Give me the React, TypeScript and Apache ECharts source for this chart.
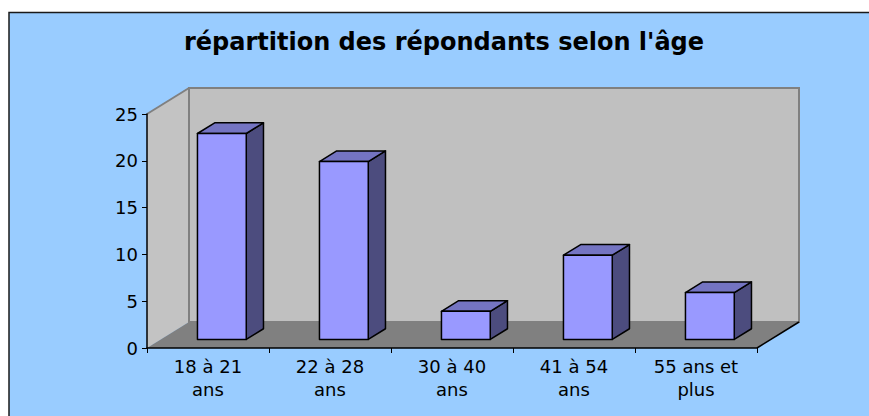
import React, { useEffect, useRef } from "react";
import * as echarts from "echarts";

const TITLE = "répartition des répondants selon l'âge";
const CATEGORIES = ["18 à 21\nans", "22 à 28\nans", "30 à 40\nans", "41 à 54\nans", "55 ans et\nplus"];
const VALUES = [22, 19, 3, 9, 5];
const Y_MIN = 0;
const Y_MAX = 25;
const Y_STEP = 5;

// 3D look (pixels / fractions)
const DX = 42;
const DY = -26;
const F1 = 0.33;
const F2 = 0.74;
const BAR_RATIO = 0.4;

const FONT = "'DejaVu Sans', Verdana, sans-serif";

export default function App() {
  const ref = useRef<HTMLDivElement>(null);
  useEffect(() => {
    if (!ref.current) return;
    const chart = echarts.init(ref.current, undefined, { renderer: "svg" });
    const option: any = {
      animation: false,
      backgroundColor: "#ffffff",
      title: {
        text: TITLE,
        left: 444,
        top: 30,
        padding: 0,
        textAlign: "center",
        textStyle: { fontFamily: FONT, fontSize: 24, fontWeight: "bold", color: "#000" },
      },
      graphic: [
        {
          type: "rect",
          z: -10,
          silent: true,
          shape: { x: 9, y: 12.5, width: 900, height: 450 },
          style: { fill: "#99CCFF", stroke: "#1a1a1a", lineWidth: 1.5 },
        },
      ],
      grid: { left: 147, right: 112, top: 114, bottom: 68, containLabel: false },
      xAxis: {
        type: "category",
        data: CATEGORIES,
        z: 10,
        axisLine: { show: true, lineStyle: { color: "#000", width: 1.5 } },
        axisTick: { show: true, length: 5, lineStyle: { color: "#000", width: 1 } },
        axisLabel: {
          fontFamily: FONT,
          fontSize: 18,
          lineHeight: 23,
          color: "#000",
          margin: 7,
          interval: 0,
        },
        splitLine: { show: false },
      },
      yAxis: {
        type: "value",
        min: Y_MIN,
        max: Y_MAX,
        interval: Y_STEP,
        z: 10,
        axisLine: { show: true, lineStyle: { color: "#000", width: 1.5 } },
        axisTick: { show: true, length: 5, lineStyle: { color: "#000", width: 1 } },
        axisLabel: { fontFamily: FONT, fontSize: 18, color: "#000", margin: 9 },
        splitLine: { show: false },
      },
      series: [
        {
          type: "custom",
          z: 1,
          silent: true,
          data: [[0, 0]],
          renderItem: (params: any) => {
            const cs = params.coordSys;
            const x = cs.x, y = cs.y, w = cs.width, h = cs.height;
            return {
              type: "group",
              children: [
                {
                  type: "polygon",
                  shape: { points: [[x, y], [x + DX, y + DY], [x + DX, y + h + DY], [x, y + h]] },
                  style: { fill: "#C3C3C3", stroke: "none" },
                },
                {
                  type: "rect",
                  shape: { x: x + DX, y: y + DY, width: w, height: h },
                  style: { fill: "#C0C0C0", stroke: "#808080", lineWidth: 2 },
                },
                {
                  type: "line",
                  shape: { x1: x, y1: y, x2: x + DX, y2: y + DY },
                  style: { stroke: "#808080", lineWidth: 2 },
                },
                {
                  type: "polygon",
                  shape: { points: [[x, y + h], [x + w, y + h], [x + w + DX, y + h + DY], [x + DX, y + h + DY]] },
                  style: { fill: "#808080", stroke: "none" },
                },
                {
                  type: "line",
                  shape: { x1: x + w, y1: y + h, x2: x + w + DX, y2: y + h + DY },
                  style: { stroke: "#000", lineWidth: 1.5 },
                },
              ],
            };
          },
        },
        {
          type: "custom",
          z: 3,
          data: VALUES.map((v, i) => [i, v]),
          renderItem: (params: any, api: any) => {
            const i = api.value(0);
            const v = api.value(1);
            const base = api.coord([i, 0]);
            const top = api.coord([i, v]);
            const bw = api.size([1, 0])[0] * BAR_RATIO;
            const x0 = base[0] - bw / 2 + F1 * DX;
            const x1 = x0 + bw;
            const yb = base[1] + F1 * DY;
            const yt = top[1] + F1 * DY;
            const ox = (F2 - F1) * DX;
            const oy = (F2 - F1) * DY;
            const stroke = { stroke: "#000", lineWidth: 1.5, lineJoin: "round" };
            return {
              type: "group",
              children: [
                {
                  type: "polygon",
                  shape: { points: [[x1, yt], [x1 + ox, yt + oy], [x1 + ox, yb + oy], [x1, yb]] },
                  style: { fill: "#4C4C7E", ...stroke },
                },
                {
                  type: "polygon",
                  shape: { points: [[x0, yt], [x1, yt], [x1 + ox, yt + oy], [x0 + ox, yt + oy]] },
                  style: { fill: "#7474C2", ...stroke },
                },
                {
                  type: "rect",
                  shape: { x: x0, y: yt, width: bw, height: yb - yt },
                  style: { fill: "#9999FF", ...stroke },
                },
              ],
            };
          },
        },
      ],
    };
    chart.setOption(option);
    return () => chart.dispose();
  }, []);
  return (
    <div
      ref={ref}
      style={{ position: "absolute", left: 0, top: 0, width: 869, height: 416 }}
    />
  );
}
